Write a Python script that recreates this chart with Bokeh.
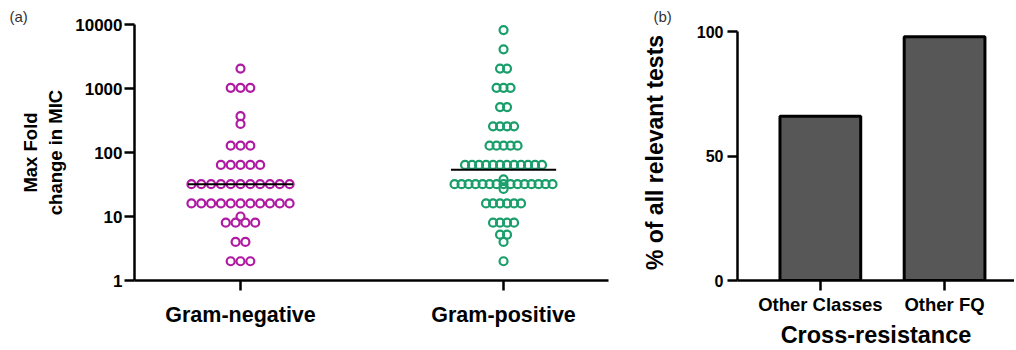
import numpy as np
from bokeh.plotting import figure
from bokeh.layouts import row
from bokeh.models import FixedTicker, Range1d, PrintfTickFormatter
from bokeh.embed import file_html
from bokeh.resources import INLINE

# ---------------- data ----------------
groups = ["Gram-negative", "Gram-positive"]
# distinct fold-change values and how many isolates share each one
gn_values = [2048, 1024, 370, 280, 128, 64, 32, 16, 10, 8, 4, 2]
gn_counts = [1, 3, 1, 1, 3, 5, 11, 11, 1, 4, 2, 3]
gp_values = [8192, 4096, 2048, 1024, 512, 256, 128, 64, 38, 32, 27, 16, 8, 5.2, 4, 2]
gp_counts = [1, 1, 2, 3, 2, 4, 5, 12, 1, 15, 1, 6, 4, 2, 1, 1]
center_lines = [32, 54]
group_colors = ["#B01AA3", "#1A9E6B"]
y_ticks_a = [1, 10, 100, 1000, 10000]

bar_categories = ["Other Classes", "Other FQ"]
bar_values = [66, 98]
y_ticks_b = [0, 50, 100]

FONT = "Liberation Sans"


def style_axes(p):
    for ax in (p.xaxis[0], p.yaxis[0]):
        ax.axis_line_width = 2.5
        ax.major_tick_line_width = 2.5
        ax.major_tick_in = 0
        ax.major_tick_out = 10
        ax.minor_tick_line_color = None
        ax.major_label_text_font = FONT
        ax.major_label_text_font_style = "bold"
        ax.major_label_text_color = "black"
        ax.axis_label_text_font = FONT
        ax.axis_label_text_font_style = "bold"
        ax.axis_label_text_color = "black"


def style_panel_title(p, text, offset):
    p.title.text = text
    p.title.align = "left"
    p.title.offset = offset
    p.title.standoff = 0
    p.title.text_font = FONT
    p.title.text_font_style = "normal"
    p.title.text_font_size = "15px"
    p.title.text_color = "#333333"


# ---------------- panel (a) ----------------
p1 = figure(width=638, height=350, y_axis_type="log",
            x_range=Range1d(-0.403, 1.399), y_range=Range1d(1, 10000),
            output_backend="svg", toolbar_location=None,
            min_border_left=134, min_border_right=30,
            min_border_top=24, min_border_bottom=67)
p1.outline_line_color = None
p1.grid.visible = False
style_axes(p1)
style_panel_title(p1, "(a)", -125)

spacings = [0.0373, 0.0266]  # horizontal spacing between neighbouring dots (data units)
for gi, (vals, cnts) in enumerate([(gn_values, gn_counts), (gp_values, gp_counts)]):
    xs, ys = [], []
    for v, n in zip(vals, cnts):
        for k in range(n):
            xs.append(gi + (k - (n - 1) / 2) * spacings[gi])
            ys.append(v)
    p1.scatter(xs, ys, marker="circle", size=8, fill_alpha=0,
               line_color=group_colors[gi], line_width=2.2)

p1.segment(x0=[i - 0.2 for i in range(len(groups))],
           x1=[i + 0.2 for i in range(len(groups))],
           y0=center_lines, y1=center_lines, line_color="black", line_width=2)

p1.xaxis.ticker = FixedTicker(ticks=list(range(len(groups))))
p1.xaxis.major_label_overrides = {i: g for i, g in enumerate(groups)}
p1.xaxis.major_label_text_font_size = "21.5px"
p1.xaxis.major_label_standoff = 12

p1.yaxis.ticker = FixedTicker(ticks=y_ticks_a, minor_ticks=[])
p1.yaxis.formatter = PrintfTickFormatter(format="%d")
p1.yaxis.major_label_text_font_size = "17px"
p1.yaxis.major_label_standoff = 2
p1.yaxis.axis_label = "Max Fold\nchange in MIC"
p1.yaxis.axis_label_text_font_size = "18.5px"
p1.yaxis.axis_label_standoff = 6

# ---------------- panel (b) ----------------
# y range reaches a little above 100 so the frame top lines up with panel (a);
# the axis line itself is bounded to 0..100
p2 = figure(width=376, height=350,
            x_range=Range1d(-0.667, 1.563), y_range=Range1d(0, 102.94),
            output_backend="svg", toolbar_location=None,
            min_border_left=95, min_border_right=0,
            min_border_top=24, min_border_bottom=67)
p2.outline_line_color = None
p2.grid.visible = False
style_axes(p2)
style_panel_title(p2, "(b)", -84)

p2.vbar(x=list(range(len(bar_categories))), top=bar_values, bottom=0, width=0.65,
        fill_color="#575757", line_color="black", line_width=3)

p2.xaxis.ticker = FixedTicker(ticks=list(range(len(bar_categories))))
p2.xaxis.major_label_overrides = {i: c for i, c in enumerate(bar_categories)}
p2.xaxis.major_label_text_font_size = "18.5px"
p2.xaxis.major_label_standoff = 3
p2.xaxis.axis_label = "Cross-resistance"
p2.xaxis.axis_label_text_font_size = "23.5px"
p2.xaxis.axis_label_standoff = 4

p2.yaxis.ticker = FixedTicker(ticks=y_ticks_b, minor_ticks=[])
p2.yaxis.bounds = (0, 100)
p2.yaxis.major_label_text_font_size = "16px"
p2.yaxis.major_label_standoff = 4
p2.yaxis.axis_label = "% of all relevant tests"
p2.yaxis.axis_label_text_font_size = "23px"
p2.yaxis.axis_label_standoff = 26

layout = row(p1, p2)
open("out.html", "w").write(file_html(layout, INLINE))
